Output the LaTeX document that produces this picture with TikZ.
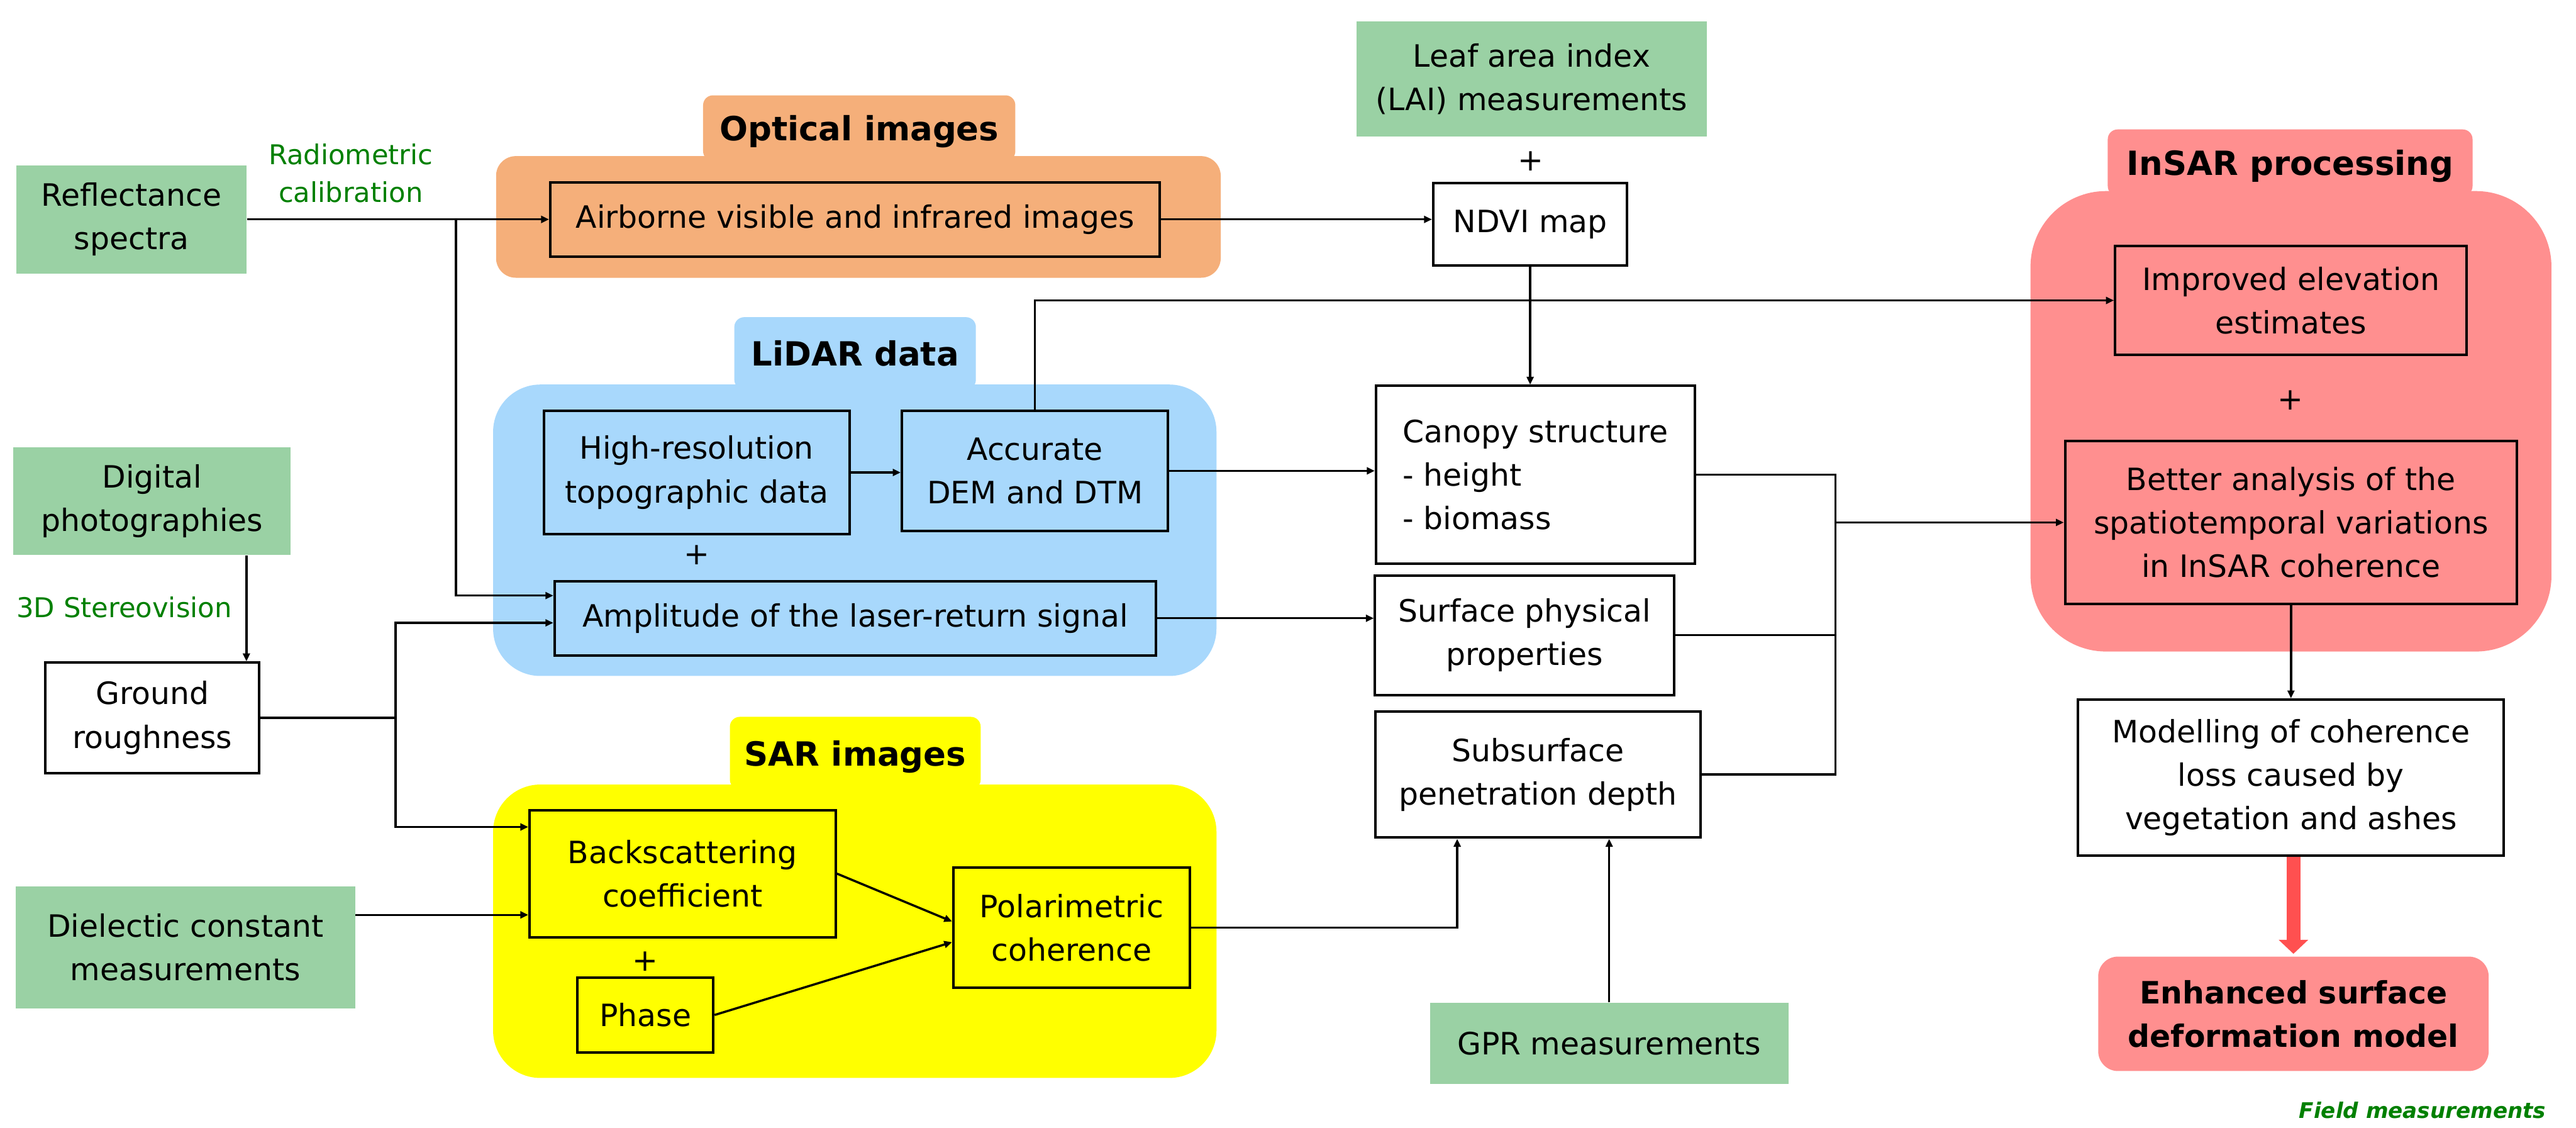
\documentclass[tikz,border=0pt]{standalone}
\usepackage{fontspec}
\setmainfont{DejaVu Sans}
\usepackage{tikz}
\usetikzlibrary{arrows.meta,backgrounds}
\definecolor{fieldgreen}{HTML}{9AD1A4}
\definecolor{optorange}{HTML}{F5AF7A}
\definecolor{lidarblue}{HTML}{A8D8FC}
\definecolor{saryellow}{HTML}{FFFF00}
\definecolor{insarred}{HTML}{FF8F8F}
\definecolor{arrowred}{HTML}{FF5050}
\definecolor{notegreen}{HTML}{008000}
\tikzset{
  boxtext/.style={
    font=\fontsize{13.3pt}{18.8pt}\selectfont,
    align=center,
    inner sep=2pt
  },
  fieldbox/.style={
    boxtext,
    fill=fieldgreen
  },
  procbox/.style={
    boxtext,
    draw=black,
    line width=1.1pt,
    fill=white
  },
  resultbox/.style={
    boxtext,
    font=\fontsize{13.3pt}{18.8pt}\selectfont\bfseries,
    fill=insarred,
    rounded corners=0.3cm
  },
  grouptab/.style={
    font=\fontsize{14.4pt}{17pt}\selectfont\bfseries,
    rounded corners=0.15cm,
    text depth=0pt,
    inner sep=0pt
  },
  notelabel/.style={
    font=\fontsize{11.8pt}{16.4pt}\selectfont,
    text=notegreen,
    align=center
  },
  plussign/.style={
    font=\fontsize{13.3pt}{16pt}\selectfont
  },
  conn/.style={
    -{Triangle[length=3.4pt,width=3pt]},
    line width=0.95pt
  },
  link/.style={
    line width=0.95pt
  },
  bigarrow/.style={
    -{Triangle[length=6.1pt,width=12.5pt]},
    line width=6.1pt,
    draw=arrowred,
    shorten >=1pt
  }
}

\begin{document}
\begin{tikzpicture}[x=0.025cm, y=-0.025cm]
    \useasboundingbox (0,0) rectangle (1568,686);

    \begin{scope}[on background layer]
        \node[grouptab, fill=optorange, minimum width=4.75cm, minimum height=1cm] (opticaltab) at (523,78) {Optical images};
        \node[fill=optorange, rounded corners=0.3cm, minimum width=11.025cm, minimum height=1.85cm] (optical) at (522.5,132) {};
        \node[grouptab, fill=lidarblue, minimum width=3.675cm, minimum height=1.1cm] (lidartab) at (520.5,215) {LiDAR data};
        \node[fill=lidarblue, rounded corners=0.72cm, minimum width=11.005cm, minimum height=4.4325cm] (lidar) at (520.3,322.65) {};
        \node[grouptab, fill=saryellow, minimum width=3.815cm, minimum height=1.105cm] (sartab) at (520.6,458.3) {SAR images};
        \node[fill=saryellow, rounded corners=0.72cm, minimum width=11.005cm, minimum height=4.4625cm] (sar) at (520.3,566.65) {};
        \node[grouptab, fill=insarred, minimum width=5.55cm, minimum height=1.0125cm] (insartab) at (1394,99) {InSAR processing};
        \node[fill=insarred, rounded corners=1.15cm, minimum width=7.925cm, minimum height=7.0025cm] (insar) at (1394.5,256.35) {};
    \end{scope}

    % field measurements
    \node[fieldbox, minimum width=3.5cm, minimum height=1.65cm] (refl) at (80,133.5) {
        Reflectance\\spectra
    };
    \node[fieldbox, minimum width=4.225cm, minimum height=1.6375cm] (digital) at (92.5,305) {
        Digital\\photographies
    };
    \node[fieldbox, minimum width=5.1625cm, minimum height=1.8575cm] (dielec) at (112.9,576.5) {
        Dielectic constant\\measurements
    };
    \node[fieldbox, minimum width=5.335cm, minimum height=1.75cm] (lai) at (932.3,48) {
        Leaf area index\\(LAI) measurements
    };
    \node[fieldbox, minimum width=5.45cm, minimum height=1.2375cm] (gpr) at (979.5,635) {GPR measurements};

    \node[notelabel] (radiolabel) at (213.5,105.5) {Radiometric\\calibration};
    \node[notelabel] (stereolabel) at (75.6,369.7) {3D Stereovision};
    \coordinate (stereo) at (150,370);

    % sensors
    \node[procbox, fill=optorange, minimum width=9.275cm, minimum height=1.125cm] (airborne) at (520.5,133.5) {Airborne visible and infrared images};
    \node[procbox, fill=lidarblue, minimum width=4.65cm, minimum height=1.875cm] (hires) at (424,287.5) {
        High-resolution\\topographic data
    };
    \node[procbox, fill=lidarblue, minimum width=4.05cm, minimum height=1.825cm] (accurate) at (630,286.5) {
        Accurate\\DEM and DTM
    };
    \node[plussign] (lidarplus) at (424,337.6) {+};
    \node[procbox, fill=lidarblue, minimum width=9.15cm, minimum height=1.125cm] (amplitude) at (520.6,376.2) {Amplitude of the laser-return signal};
    \node[procbox, fill=saryellow, minimum width=4.6575cm, minimum height=1.93cm] (backsc) at (415.5,531.6) {
        Backscattering\\coefficient
    };
    \node[plussign] (sarplus) at (392.9,584.9) {+};
    \node[procbox, fill=saryellow, minimum width=2.065cm, minimum height=1.14cm] (phase) at (392.9,617.6) {Phase};
    \node[procbox, fill=saryellow, minimum width=3.6cm, minimum height=1.8325cm] (polar) at (652.3,564.4) {
        Polarimetric\\coherence
    };

    % derived products
    \node[procbox, minimum width=3.25cm, minimum height=1.68cm] (ground) at (92.7,436.8) {
        Ground\\roughness
    };
    \node[plussign] (laiplus) at (931.9,98) {+};
    \node[procbox, minimum width=2.95cm, minimum height=1.255cm] (ndvi) at (931.4,136.6) {NDVI map};
    \node[procbox, align=left, minimum width=4.85cm, minimum height=2.7cm] (canopy) at (934.6,288.8) {
        Canopy structure\\- height\\- biomass
    };
    \node[procbox, minimum width=4.55cm, minimum height=1.8175cm] (surface) at (928,386.5) {
        Surface physical\\properties
    };
    \node[procbox, minimum width=4.95cm, minimum height=1.9175cm] (subsurf) at (936.1,471.3) {
        Subsurface\\penetration depth
    };

    % InSAR
    \node[procbox, fill=insarred, minimum width=5.35cm, minimum height=1.6625cm] (improved) at (1394.5,182.8) {
        Improved elevation\\estimates
    };
    \node[plussign] (insarplus) at (1394,243.4) {+};
    \node[procbox, fill=insarred, minimum width=6.875cm, minimum height=2.4825cm] (better) at (1394.5,317.9) {
        Better analysis of the\\spatiotemporal variations\\in InSAR coherence
    };
    \node[procbox, minimum width=6.475cm, minimum height=2.375cm] (modelling) at (1394.5,473.2) {
        Modelling of coherence\\loss caused by\\vegetation and ashes
    };
    \node[resultbox, minimum width=5.94cm, minimum height=1.74cm] (enhanced) at (1396,616.9) {
        Enhanced surface\\deformation model
    };

    \node[font=\fontsize{9.3pt}{11pt}\selectfont\bfseries\itshape, text=notegreen] (fieldnote) at (1474.6,675.7) {Field measurements};

    \coordinate (refsplit) at (277.5,133.5);
    \coordinate (groundsplit) at (240.8,436.8);
    \coordinate (merge) at (1117.2,317.9);

    \draw[conn] (refl) -- (airborne);
    \draw[conn] (refsplit) |- (amplitude.west |- 0,362.4);
    \draw[conn] (airborne.east) -- (airborne.east -| ndvi.west);
    \draw[conn] (ndvi.south) -- (ndvi.south |- canopy.north);
    \draw[conn] (hires.east) -- (hires.east -| accurate.west);
    \draw[conn] (accurate.north) |- (improved.west);
    \draw[conn] (accurate.east) -- (accurate.east -| canopy.west);
    \draw[conn] (amplitude.east) -- (amplitude.east -| surface.west);
    \draw[conn] (digital.south -| stereo) -- (ground.north -| stereo);
    \draw[link] (ground.east) -- (groundsplit);
    \draw[conn] (groundsplit) |- (amplitude.west |- 0,379);
    \draw[conn] (groundsplit) |- (backsc.west |- 0,503.2);
    \draw[conn] (dielec.east |- 0,556.7) -- (backsc.west |- 0,556.7);
    \draw[conn] (backsc.east) -- (polar.west |- 0,560.7);
    \draw[conn] (phase.east) -- (polar.west |- 0,573.3);
    \draw[conn] (polar.east) -| (subsurf.south -| 887,0);
    \draw[conn] (gpr.north) -- (gpr.north |- subsurf.south);
    \draw[link] (canopy.east) -| (subsurf.east -| merge) -- (subsurf.east);
    \draw[link] (surface.east) -- (surface.east -| merge);
    \draw[conn] (merge) -- (better.west);
    \draw[conn] (better) -- (modelling);
    \draw[bigarrow] (modelling.south -| enhanced.north) -- (enhanced.north);
\end{tikzpicture}
\end{document}
